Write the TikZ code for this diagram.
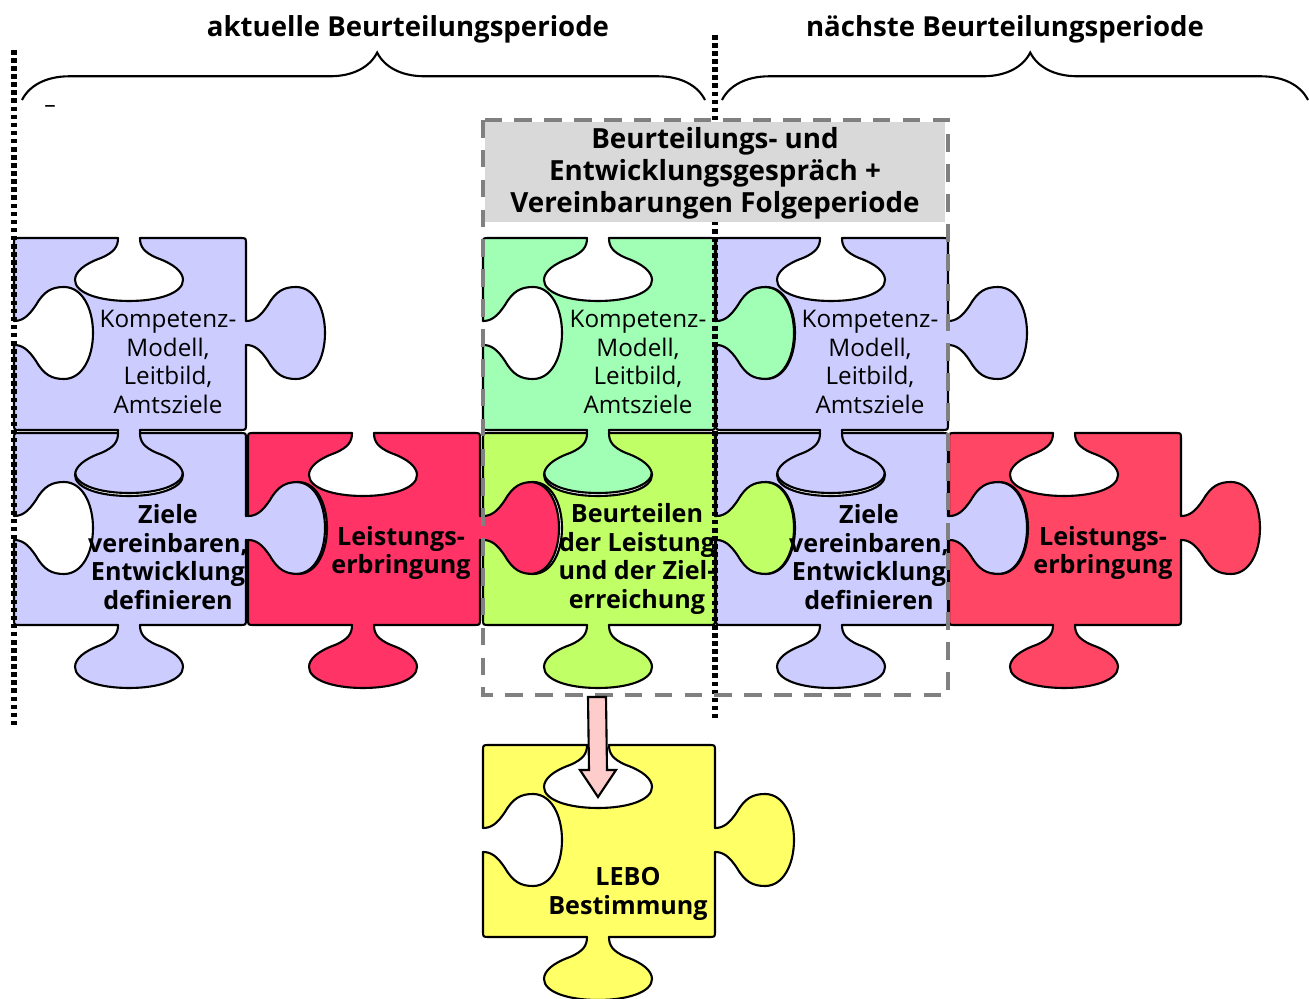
\documentclass[tikz,border=0pt]{standalone}
\usepackage{fontspec}
\setmainfont{Open Sans}
\usepackage{tikz}
\usetikzlibrary{calc, decorations.pathreplacing}
\definecolor{pzLavender}{RGB}{204,204,255}
\definecolor{pzRed}{RGB}{255,51,102}
\definecolor{pzRedB}{RGB}{255,70,100}
\definecolor{pzMint}{RGB}{160,255,180}
\definecolor{pzLime}{RGB}{192,255,102}
\definecolor{pzYellow}{RGB}{255,255,102}
\definecolor{pzHead}{RGB}{217,217,217}
\definecolor{pzArrow}{RGB}{255,204,204}
\definecolor{pzDash}{RGB}{128,128,128}

\begin{document}
\begin{tikzpicture}[x=0.02cm, y=-0.02cm,
    piece/.pic={
        \path[pic actions, draw=black, line width=1.2pt, line join=round]
        (6,0) -- (104,0)
        .. controls (104,8) and (101,14) .. (87,20)
        .. controls (70,26) and (61,34) .. (61,42)
        .. controls (61,55) and (85,63) .. (115,63)
        .. controls (145,63) and (169,55) .. (169,42)
        .. controls (169,34) and (160,26) .. (143,20)
        .. controls (129,14) and (126,8) .. (126,0)
        -- (226,0) .. controls (232,0) .. (232,6)
        -- (232,83)
        .. controls (240,83) and (246,79) .. (254,67)
        .. controls (262,53) and (270,49) .. (282,49)
        .. controls (300,49) and (311,70) .. (311,95)
        .. controls (311,120) and (300,141) .. (282,141)
        .. controls (270,141) and (262,137) .. (254,123)
        .. controls (246,111) and (240,107) .. (232,107)
        -- (232,186) .. controls (232,192) .. (226,192)
        -- (126,192)
        .. controls (126,200) and (129,206) .. (143,212)
        .. controls (160,218) and (169,226) .. (169,234)
        .. controls (169,247) and (145,255) .. (115,255)
        .. controls (85,255) and (61,247) .. (61,234)
        .. controls (61,226) and (70,218) .. (87,212)
        .. controls (101,206) and (104,200) .. (104,192)
        -- (6,192) .. controls (0,192) .. (0,186)
        -- (0,107)
        .. controls (8,107) and (14,111) .. (22,123)
        .. controls (30,137) and (38,141) .. (50,141)
        .. controls (68,141) and (79,120) .. (79,95)
        .. controls (79,70) and (68,49) .. (50,49)
        .. controls (38,49) and (30,53) .. (22,67)
        .. controls (14,79) and (8,83) .. (0,83)
        -- (0,6) .. controls (0,0) .. (6,0) -- cycle;
        \coordinate (-hole) at (115,52);
    },
    lbl/.style={align=center, font=\fontsize{13.8}{16.4}\selectfont},
    boldlbl/.style={align=center, font=\fontsize{14.3}{16.4}\selectfont\bfseries},
    title/.style={font=\fontsize{15.7}{18}\selectfont\bfseries},
    period/.style={decorate, decoration={brace, amplitude=27pt}, line width=1.2pt},
    divider/.style={line width=3pt, dash pattern=on 2.6pt off 2pt},
    dashbox/.style={draw=pzDash, line width=2.3pt, dash pattern=on 10pt off 7pt},
    blockarr/.style={draw=black, fill=pzArrow, line width=1.2pt, line join=miter}
]
\clip (0,0) rectangle (1309,999);

% Zeitraeume
\node[title] (curTitle) at (408,29) {aktuelle Beurteilungsperiode};
\node[title] (nextTitle) at (1005,29) {nächste Beurteilungsperiode};
\coordinate (curL) at (22,100);
\coordinate (curR) at (705,100);
\coordinate (nextL) at (722,100);
\coordinate (nextR) at (1308,100);
\draw[period, decoration={aspect=0.52}] (curL) -- (curR);
\draw[period, decoration={aspect=0.526}] (nextL) -- (nextR);
\node[font=\fontsize{13}{14}\selectfont] (stray) at (50,109) {–};

% Puzzleteile
\pic[fill=pzLavender] (pA) at (14,238) {piece};
\pic[fill=pzLavender] (pB) at (14,433) {piece};
\pic[fill=pzRed] (pC) at (248,433) {piece};
\pic[fill=pzMint] (pD) at (483,238) {piece};
\pic[fill=pzLime] (pE) at (483,433) {piece};
\pic[fill=pzLavender] (pF) at (716,238) {piece};
\pic[fill=pzLavender] (pG) at (716,433) {piece};
\pic[fill=pzRedB] (pH) at (949,433) {piece};
\pic[fill=pzYellow] (pL) at (483,745) {piece};

\node[lbl] (compA) at (168,362) {Kompetenz-\\Modell,\\Leitbild,\\Amtsziele};
\node[lbl] (compD) at (638,362) {Kompetenz-\\Modell,\\Leitbild,\\Amtsziele};
\node[lbl] (compF) at (870,362) {Kompetenz-\\Modell,\\Leitbild,\\Amtsziele};
\node[boldlbl] (goalB) at (168,557) {Ziele\\vereinbaren,\\Entwicklung\\definieren};
\node[boldlbl] (goalG) at (869,557) {Ziele\\vereinbaren,\\Entwicklung\\definieren};
\node[boldlbl] (perfC) at (401,553) {Leistungs-\\erbringung};
\node[boldlbl] (perfH) at (1103,553) {Leistungs-\\erbringung};
\node[boldlbl] (rateE) at (637,559) {Beurteilen\\der Leistung\\und der Ziel-\\erreichung};
\node[boldlbl] (lebo) at (628,894) {LEBO\\Bestimmung};

% Trennlinien
\coordinate (divLtop) at (14,50);
\coordinate (divLbot) at (14,727);
\coordinate (divMtop) at (715,35);
\coordinate (divMbot) at (715,720);
\draw[divider] (divLtop) -- (divLbot);
\draw[divider] (divMtop) -- (divMbot);

% Gespraech
\fill[pzHead] (485,122) rectangle (945,222);
\node[title, align=center, font=\fontsize{15.8}{18.2}\selectfont\bfseries] (talk) at (715,173)
    {Beurteilungs- und\\Entwicklungsgespräch +\\Vereinbarungen Folgeperiode};
\coordinate (boxNW) at (483,120);
\coordinate (boxSE) at (948,695);
\draw[dashbox] (boxNW) rectangle (boxSE);

% Pfeil zur LEBO
\coordinate (arrStart) at (597,697);
\draw[blockarr] ($(arrStart)+(-9,0)$) -- ($(pL-hole)+(-9,-27)$) -- ($(pL-hole)+(-18,-27)$)
    -- (pL-hole) -- ($(pL-hole)+(18,-27)$) -- ($(pL-hole)+(9,-27)$)
    -- ($(arrStart)+(9,0)$) -- cycle;
\end{tikzpicture}
\end{document}
